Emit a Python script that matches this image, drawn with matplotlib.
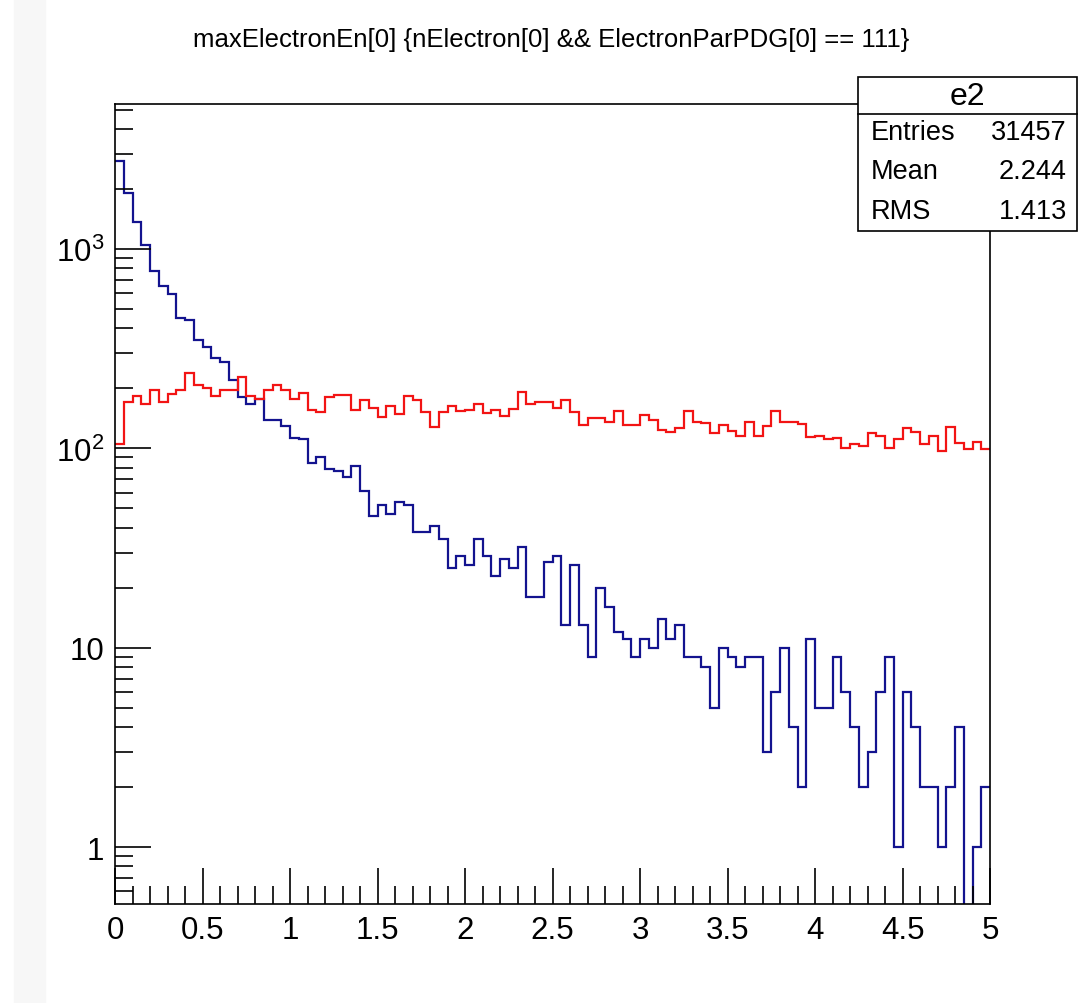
import numpy as np
import matplotlib
matplotlib.use("Agg")
import matplotlib.pyplot as plt
from matplotlib.patches import Rectangle
from matplotlib.lines import Line2D

plt.rcParams["font.family"] = ["Liberation Sans", "DejaVu Sans"]
plt.rcParams["mathtext.fontset"] = "custom"
plt.rcParams["mathtext.rm"] = "Liberation Sans"

TITLE = "maxElectronEn[0] {nElectron[0] && ElectronParPDG[0] == 111}"
EDGES = np.linspace(0, 5, 101)   # 100 bins, width 0.05

# blue histogram (counts per bin)
blue = [2775, 1917, 1361, 1044, 773, 650, 597, 451, 442, 348,
        321, 285, 270, 220, 180, 166, 177, 139, 139, 129,
        113, 111, 84, 90, 79, 77, 72, 82, 61, 46,
        52, 47, 54, 52, 38, 38, 41, 35, 25, 29,
        26, 35, 29, 23, 28, 25, 32, 18, 18, 27,
        29, 13, 26, 13, 9, 20, 16, 12, 11, 9,
        11, 10, 14, 11, 13, 9, 9, 8, 5, 10,
        9, 8, 9, 9, 3, 6, 10, 4, 2, 11,
        5, 5, 9, 6, 4, 2, 3, 6, 9, 1,
        6, 4, 2, 2, 1, 2, 4, 0, 1, 2]

# red histogram
red = [105, 170, 184, 166, 196, 170, 187, 196, 239, 209,
       201, 184, 196, 196, 229, 184, 177, 196, 208, 196,
       177, 189, 156, 152, 180, 185, 185, 156, 175, 159,
       144, 164, 149, 184, 175, 152, 128, 152, 163, 154,
       156, 167, 150, 156, 145, 157, 191, 167, 170, 170,
       159, 175, 152, 131, 142, 142, 135, 154, 131, 131,
       147, 138, 124, 121, 126, 154, 136, 134, 119, 131,
       122, 116, 136, 116, 129, 154, 136, 136, 132, 114,
       116, 111, 113, 101, 105, 103, 119, 116, 101, 111,
       126, 121, 105, 116, 97, 128, 107, 99, 108, 99]

stat_names = ["Entries", "Mean", "RMS"]
stat_vals = ["31457", "2.244", "1.413"]

YLO, YHI = 0.518, 5340

fig = plt.figure(figsize=(10.89, 10.04), dpi=100)
# faint grey strip at the left edge of the screenshot
fig.patches.append(Rectangle((14/1089, 0), 31/1089, 1, transform=fig.transFigure,
                             color="#f7f7f7", zorder=0))
ax = fig.add_axes([115/1089, 1 - 905/1004, 875/1089, 800/1004])

ax.stairs(np.clip(blue, 1e-3, None), EDGES, color="#13138f", lw=1.6, baseline=None)
ax.stairs(red, EDGES, color="#f21414", lw=1.6, baseline=None)

ax.set_yscale("log")
ax.set_xlim(0, 5)
ax.set_ylim(YLO, YHI)
ax.set_xticks(np.arange(0, 5.01, 0.5))
ax.set_xticklabels(["0", "0.5", "1", "1.5", "2", "2.5", "3", "3.5", "4", "4.5", "5"])
ax.set_xticks(np.arange(0, 5.01, 0.1), minor=True)
ax.set_yticks([1, 10, 100, 1000])
ax.set_yticklabels(["1", "10", r"$10^{2}$", r"$10^{3}$"])
ax.set_yticks([m * 10.0**d for d in range(-1, 4) for m in range(2, 10)
               if YLO <= m * 10.0**d <= YHI], minor=True)
ax.yaxis.set_minor_formatter(plt.NullFormatter())
ax.tick_params(which="both", direction="in", top=False, right=False, width=1.2)
ax.tick_params(which="major", length=26, labelsize=22.5, pad=8)
ax.tick_params(which="minor", length=13)
for s in ax.spines.values():
    s.set_linewidth(1.2)

fig.text(551/1089, 1 - 40/1004, TITLE, ha="center", va="center", fontsize=18.5)

# stats box
bx0, bx1, by0, by1 = 858/1089, 1077/1089, 1 - 232/1004, 1 - 78/1004
fig.patches.append(Rectangle((bx0, by0), bx1 - bx0, by1 - by0, transform=fig.transFigure,
                             facecolor="white", edgecolor="black", lw=1.2, zorder=5))
fig.lines.append(Line2D([bx0, bx1], [1 - 115/1004] * 2, transform=fig.transFigure,
                        color="black", lw=1.2, zorder=6))
fig.text((bx0 + bx1) / 2, 1 - 97/1004, "e2", ha="center", va="center", fontsize=23, zorder=7)
for i, (n, v) in enumerate(zip(stat_names, stat_vals)):
    yy = 1 - (133 + 39.5 * i) / 1004
    fig.text(871/1089, yy, n, ha="left", va="center", fontsize=19.5, zorder=7)
    fig.text(1067/1089, yy, v, ha="right", va="center", fontsize=19.5, zorder=7)

fig.savefig("out.png", dpi=100)
